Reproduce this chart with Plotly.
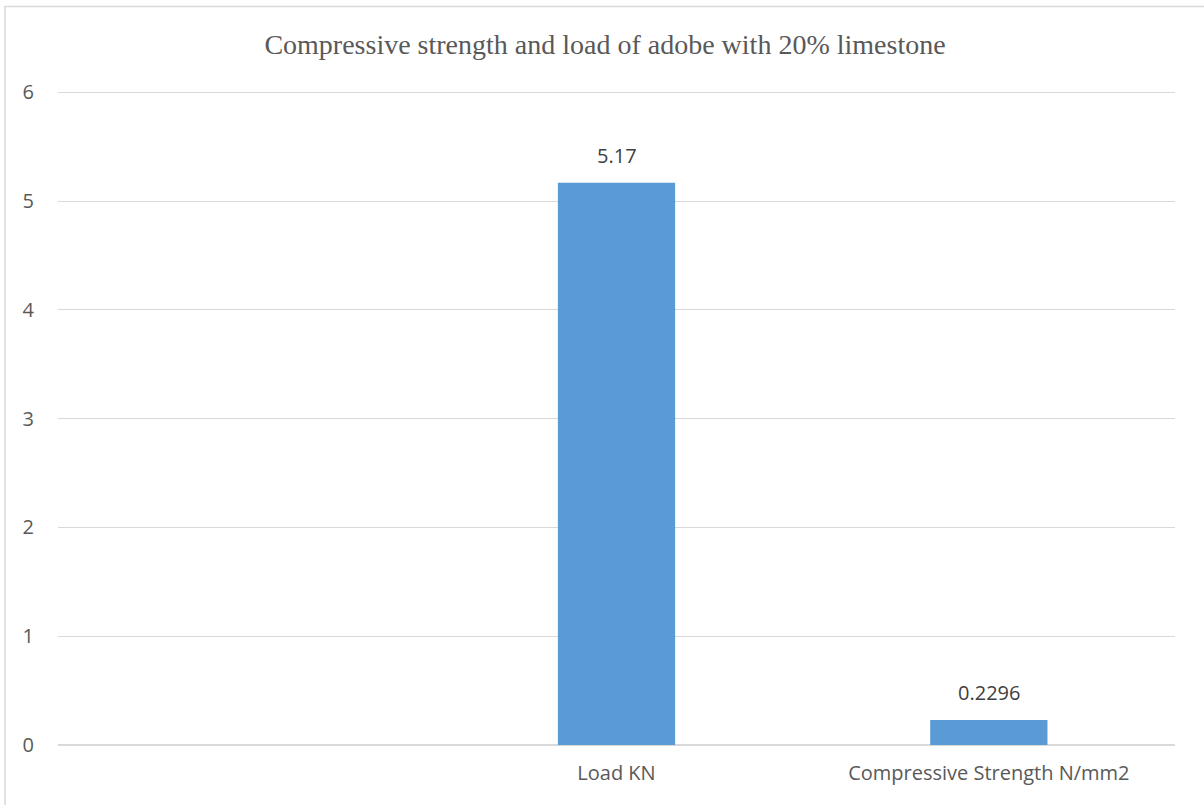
import plotly.graph_objects as go

# Chart data
categories = [" ", "Load KN", "Compressive Strength N/mm2"]
values = [None, 5.17, 0.2296]
value_labels = ["", "5.17", "0.2296"]
y_ticks = [0, 1, 2, 3, 4, 5, 6]

title_text = "Compressive strength and load of adobe with 20% limestone"

BAR_COLOR = "#5B9BD5"
TEXT_COLOR = "#595959"
GRID_COLOR = "#D9D9D9"
LABEL_FONT = "Open Sans"

W, H = 1204, 805
M_L, M_R, M_T, M_B = 58, 29, 92, 60

fig = go.Figure()
fig.add_trace(go.Bar(
    x=categories,
    y=values,
    marker=dict(color=BAR_COLOR, line=dict(width=0)),
    hoverinfo="x+y",
))

# Value labels above each bar
for cat, val, lab in zip(categories, values, value_labels):
    if val is None or not lab:
        continue
    fig.add_annotation(
        x=cat, y=val, text=lab, showarrow=False,
        yanchor="bottom", yshift=12,
        font=dict(family=LABEL_FONT, size=20, color="#404040"),
    )

# Top gridline sits on the edge of the plot area, so draw it explicitly
fig.add_hline(y=y_ticks[-1], line=dict(color=GRID_COLOR, width=1.2), layer="below")

# Outer chart frame
pw = W - M_L - M_R
ph = H - M_T - M_B
fig.add_shape(
    type="rect", xref="paper", yref="paper",
    x0=(5 - M_L) / pw, x1=(W + 10 - M_L) / pw,
    y0=-(H + 10 - M_T - ph) / ph, y1=1 + (M_T - 6.5) / ph,
    line=dict(color=GRID_COLOR, width=1.5), fillcolor="rgba(0,0,0,0)",
    layer="below",
)

fig.update_layout(
    width=W, height=H,
    margin=dict(l=M_L, r=M_R, t=M_T, b=M_B),
    paper_bgcolor="white", plot_bgcolor="white",
    bargap=0.685,
    showlegend=False,
    title=dict(
        text=title_text, x=605 / W, xref="container", xanchor="center",
        y=1 - 44 / H, yanchor="middle",
        font=dict(family="Liberation Serif", size=28, color=TEXT_COLOR),
    ),
    xaxis=dict(
        type="category",
        showgrid=False, showline=False, zeroline=False,
        ticks="", tickfont=dict(family=LABEL_FONT, size=20, color=TEXT_COLOR),
        ticklabelstandoff=14,
    ),
    yaxis=dict(
        range=[0, 6.004], tickvals=y_ticks,
        showgrid=True, gridcolor=GRID_COLOR, gridwidth=1.2,
        zeroline=True, zerolinecolor=GRID_COLOR, zerolinewidth=1.5,
        showline=False, ticks="",
        tickfont=dict(family=LABEL_FONT, size=20, color=TEXT_COLOR),
        ticklabelstandoff=23,
    ),
)

fig.write_html("out.html")
